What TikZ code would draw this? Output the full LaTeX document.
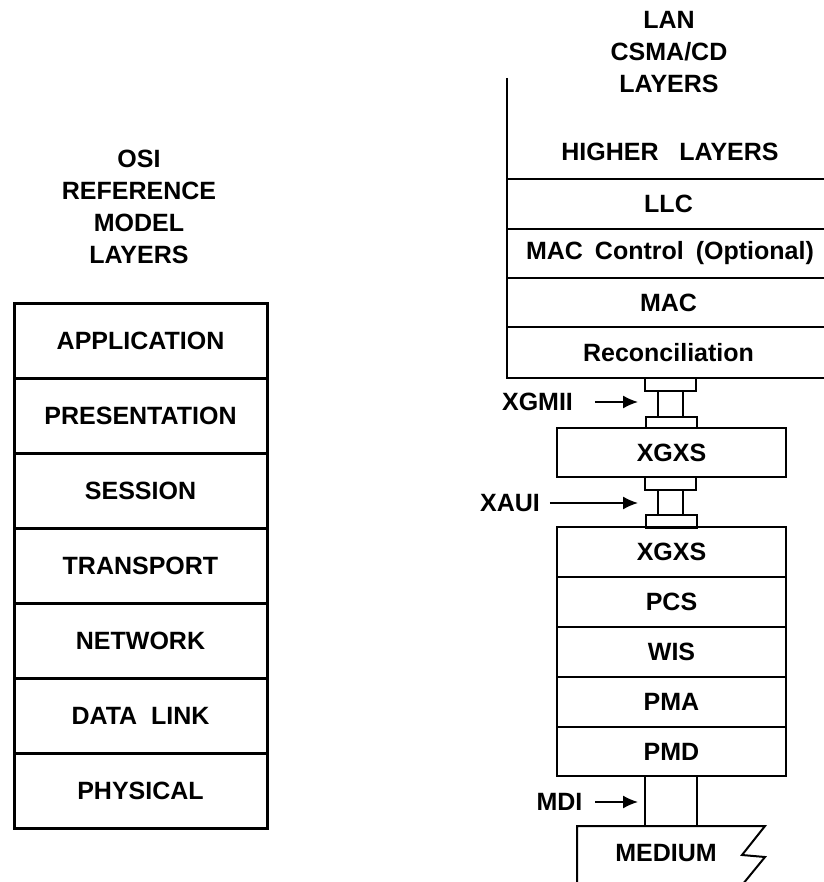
\documentclass[tikz,border=0pt]{standalone}
\usepackage{fontspec}
\setmainfont{Liberation Sans}
\usetikzlibrary{arrows.meta}

\newcommand\lblfont{\fontsize{25}{32}\selectfont\bfseries}

\begin{document}
\begin{tikzpicture}[x=1pt, y=-1pt, >={Latex[length=15pt,width=13pt]}]

\tikzset{
    osi box/.style={
        draw, line width=3pt, rectangle, outer sep=0pt, inner sep=0pt,
        minimum width=253pt, minimum height=75pt, font=\lblfont
    },
    lan box/.style={
        draw, line width=2pt, rectangle, outer sep=0pt, inner sep=0pt,
        minimum width=#1, minimum height=50pt, font=\lblfont
    },
    flange/.style={
        draw, line width=2pt, rectangle, outer sep=0pt, inner sep=0pt,
        minimum width=51pt, minimum height=12pt
    },
    stem/.style={
        draw, line width=2pt, rectangle, outer sep=0pt, inner sep=0pt,
        minimum width=25pt, minimum height=26pt
    },
    tag/.style={font=\lblfont, inner sep=0pt, outer sep=0pt, align=center},
    pointer/.style={->, line width=1.6pt}
}

\useasboundingbox (0,0) rectangle (823,882);

% Titles
\node[tag] (osititle) at (139,207) {OSI\\REFERENCE\\MODEL\\LAYERS};
\node[tag] (lantitle) at (669,52) {LAN\\CSMA/CD\\LAYERS};

% OSI REFERENCE MODEL
\node[osi box] (app) at (140.5,340.5) {APPLICATION};
\node[osi box] (pres) at (140.5,415.5) {PRESENTATION};
\node[osi box] (sess) at (140.5,490.5) {SESSION};
\node[osi box] (trans) at (140.5,565.5) {TRANSPORT};
\node[osi box] (net) at (140.5,640.5) {NETWORK};
\node[osi box] (dlink) at (140.5,715.5) {DATA~~LINK};
\node[osi box] (phys) at (140.5,790.5) {PHYSICAL};

% LAN CSMA/CD upper layers
\coordinate (higherleft) at (507,78);
\node[tag] (higher) at (670,152) {HIGHER\ \ \ LAYERS};
\node[lan box=323pt] (llc) at (668.5,204) {LLC};
\node[lan box=323pt, minimum height=49pt] (macctl) at (668.5,253.5) {\hspace{3pt}MAC\hspace{12pt}Control\hspace{12pt}(Optional)};
\node[lan box=323pt, minimum height=49pt] (mac) at (668.5,302.5) {MAC};
\node[lan box=323pt, minimum height=51pt] (recon) at (668.5,352.5) {Reconciliation};
\draw[line width=2pt] (higherleft) -- (llc.north west);

% XGMII
\node[flange, minimum height=13pt] (gmiitop) at (670.5,384.5) {};
\node[stem] (gmiistem) at (670.5,404) {};
\node[flange, minimum height=11pt] (gmiibot) at (671,422.5) {};
\node[lan box=229pt, minimum height=49pt] (xgxsa) at (671.5,452.5) {XGXS};

% XAUI
\node[flange, minimum height=13pt] (auitop) at (670.5,483.5) {};
\node[stem, minimum height=25pt] (auistem) at (670.5,502.5) {};
\node[flange, minimum height=13pt] (auibot) at (671,521.5) {};

% PHY layers
\node[lan box=229pt] (xgxsb) at (671.5,552) {XGXS};
\node[lan box=229pt] (pcs) at (671.5,602) {PCS};
\node[lan box=229pt] (wis) at (671.5,652) {WIS};
\node[lan box=229pt] (pma) at (671.5,702) {PMA};
\node[lan box=229pt, minimum height=49pt] (pmd) at (671.5,751.5) {PMD};

% MDI and medium
\node[draw, line width=2pt, outer sep=0pt, minimum width=52pt, minimum height=50pt] (mdibox) at (671,801) {};
\draw[line width=2pt] (577,890) -- (577,826) -- (765,826) -- (742,855) -- (765,857) -- (738,890);
\node[tag] (medium) at (666,853) {MEDIUM};

% Interface labels
\node[tag] (xgmii) at (537.5,402) {XGMII};
\node[tag] (xaui) at (510,503) {XAUI};
\node[tag] (mdi) at (559.5,802) {MDI};
\draw[pointer, shorten <=22pt, shorten >=20pt] (xgmii.east) -- (xgmii.east -| gmiistem.west);
\draw[pointer, shorten <=10pt, shorten >=20pt] (xaui.east) -- (xaui.east -| auistem.west);
\draw[pointer, shorten <=13pt, shorten >=7pt] (mdi.east) -- (mdi.east -| mdibox.west);

\end{tikzpicture}
\end{document}
